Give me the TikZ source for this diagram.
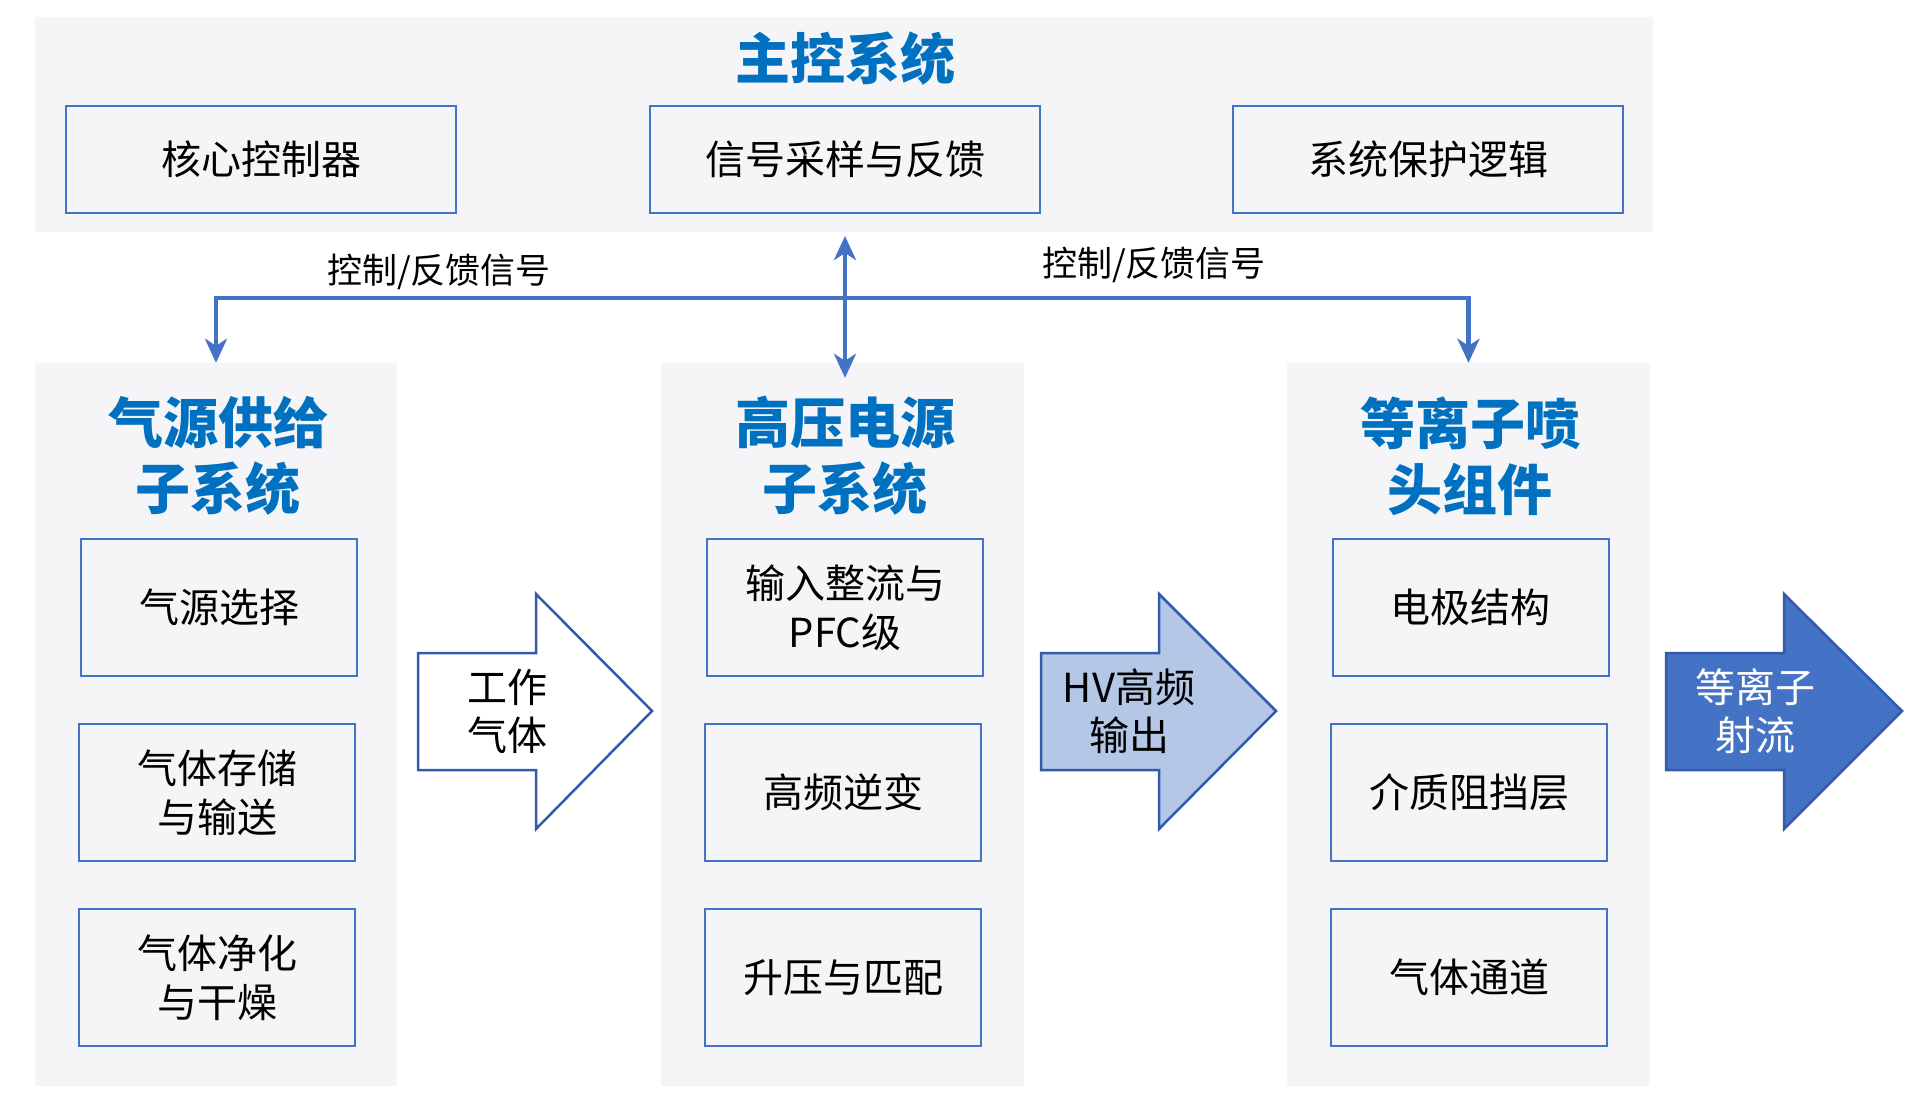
\documentclass[tikz,border=0pt]{standalone}
\usepackage{fontspec}
\setmainfont{Noto Sans CJK SC}
\usetikzlibrary{arrows.meta}
\definecolor{panelbg}{RGB}{245,245,247}
\definecolor{boxline}{RGB}{68,114,196}
\definecolor{titleblue}{RGB}{0,112,192}
\definecolor{arrowline}{RGB}{52,90,170}
\definecolor{lightfill}{RGB}{180,199,231}
\definecolor{darkfill}{RGB}{68,114,196}
\tikzset{ctip/.tip={Stealth[length=24pt,width=22pt,inset=7pt]}}
\begin{document}
\begin{tikzpicture}[x=1pt,y=-1pt,
  panel/.style={fill=panelbg, draw=none, inner sep=0pt},
  box/.style={draw=boxline, line width=2pt, fill=panelbg, inner sep=0pt, align=center, font=\fontsize{40}{49}\selectfont},
  topbox/.style={box, minimum width=390pt, minimum height=107pt},
  subbox/.style={box, minimum width=276pt, minimum height=137pt},
  title/.style={text=titleblue, font=\fontsize{55}{66}\selectfont\bfseries, align=center, inner sep=0pt},
  lbl/.style={font=\fontsize{35}{42}\selectfont, inner sep=0pt},
  conn/.style={draw=boxline, line width=4.5pt},
  blockarrow/.style={draw=arrowline, line width=2.5pt, line join=miter},
  atext/.style={font=\fontsize{40}{48}\selectfont, align=center, inner sep=0pt}]

\useasboundingbox (0,0) rectangle (1929,1106);
\fill[white] (0,0) rectangle (1929,1106);

% top panel
\node[panel, minimum width=1618pt, minimum height=215pt] (topP) at (844,124.5) {};
\node[title] (mainT) at (845,59) {主控系统};
\node[topbox] (core) at (261,159.5) {核心控制器};
\node[topbox] (sig) at (845,159.5) {信号采样与反馈};
\node[topbox] (prot) at (1428,159.5) {系统保护逻辑};

% lower panels
\node[panel, minimum width=362pt, minimum height=723pt] (gasP) at (216,724.5) {};
\node[panel, minimum width=363pt, minimum height=723pt] (hvP) at (842.5,724.5) {};
\node[panel, minimum width=363pt, minimum height=723pt] (nozP) at (1468.5,724.5) {};

\node[title] (gasT) at (218,456) {气源供给\\子系统};
\node[title] (hvT) at (845,456) {高压电源\\子系统};
\node[title] (nozT) at (1470,456) {等离子喷\\头组件};

\node[subbox] (g1) at (219,607.5) {气源选择};
\node[subbox] (g2) at (217,792.5) {气体存储\\与输送};
\node[subbox] (g3) at (217,977.5) {气体净化\\与干燥};

\node[subbox] (h1) at (845,607.5) {输入整流与\\PFC级};
\node[subbox] (h2) at (843,792.5) {高频逆变};
\node[subbox] (h3) at (843,977.5) {升压与匹配};

\node[subbox] (n1) at (1470.5,607.5) {电极结构};
\node[subbox] (n2) at (1469,792.5) {介质阻挡层};
\node[subbox] (n3) at (1469,977.5) {气体通道};

% connectors
\coordinate (busC) at (844,298);
\coordinate (hvTop) at (sig.south |- hvP.north);
\draw[conn,-{ctip}] (busC) -| (gasP.north);
\draw[conn,-{ctip}] (busC) -| (nozP.north);
\draw[conn,{ctip}-{ctip}] ([yshift=-22pt]sig.south) -- ([yshift=-15pt]hvTop);
\node[lbl] (lblL) at (439,272) {控制/反馈信号};
\node[lbl] (lblR) at (1154,265) {控制/反馈信号};

% block arrows
\draw[blockarrow, fill=white] (418,653) -- (536,653) -- (536,594) -- (652,711) -- (536,829) -- (536,770) -- (418,770) -- cycle;
\node[atext] (gasA) at (507,711) {工作\\气体};
\draw[blockarrow, fill=lightfill] (1041,653) -- (1159,653) -- (1159,594) -- (1276,711) -- (1159,829) -- (1159,770) -- (1041,770) -- cycle;
\node[atext] (hvA) at (1129,711) {HV高频\\输出};
\draw[blockarrow, fill=darkfill] (1666,653) -- (1784,653) -- (1784,594) -- (1902,711) -- (1784,829) -- (1784,770) -- (1666,770) -- cycle;
\node[atext, text=white] (jetA) at (1755,711) {等离子\\射流};
\end{tikzpicture}
\end{document}
